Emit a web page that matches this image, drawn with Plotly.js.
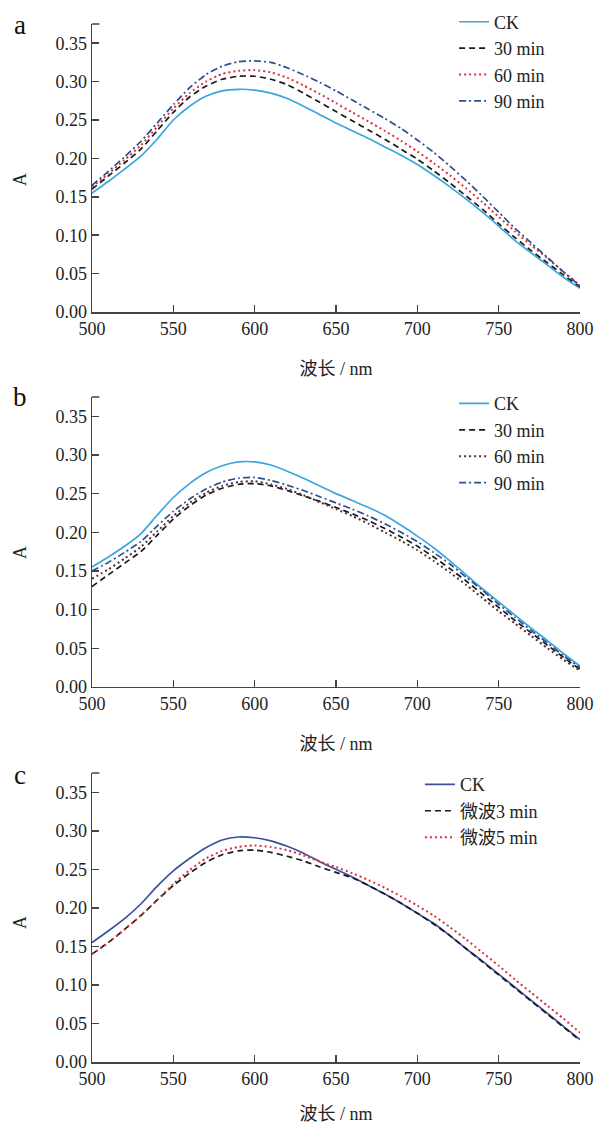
<!DOCTYPE html>
<html>
<head>
<meta charset="utf-8">
<script src="https://cdn.plot.ly/plotly-3.0.1.min.js"></script>
<style>html,body{margin:0;padding:0;background:#fff;}#chart{width:597px;height:1124px;}</style>
</head>
<body>
<div id="chart"></div>
<script>
// Wavelength (nm)
const wavelength = [500,510,520,530,540,550,560,570,580,590,600,610,620,630,640,650,660,670,680,690,700,710,720,730,740,750,760,770,780,790,800];

// Panel a
const a_CK    = [0.155,0.170,0.186,0.203,0.225,0.250,0.268,0.281,0.288,0.290,0.289,0.285,0.278,0.268,0.257,0.246,0.236,0.226,0.215,0.204,0.192,0.178,0.163,0.147,0.130,0.112,0.093,0.077,0.061,0.045,0.031];
const a_30min = [0.160,0.177,0.194,0.212,0.236,0.260,0.280,0.294,0.303,0.307,0.307,0.303,0.296,0.285,0.273,0.261,0.249,0.237,0.225,0.212,0.199,0.184,0.168,0.151,0.134,0.115,0.097,0.080,0.064,0.048,0.033];
const a_60min = [0.163,0.180,0.198,0.217,0.241,0.265,0.285,0.300,0.310,0.314,0.315,0.312,0.305,0.295,0.284,0.272,0.260,0.248,0.236,0.223,0.209,0.194,0.178,0.161,0.143,0.124,0.105,0.087,0.070,0.052,0.035];
const a_90min = [0.165,0.183,0.202,0.222,0.246,0.270,0.292,0.309,0.320,0.326,0.327,0.325,0.318,0.309,0.299,0.288,0.276,0.264,0.252,0.239,0.224,0.208,0.190,0.171,0.151,0.130,0.109,0.090,0.071,0.052,0.034];

// Panel b
const b_CK    = [0.155,0.168,0.182,0.198,0.222,0.245,0.263,0.277,0.286,0.291,0.291,0.287,0.279,0.270,0.260,0.250,0.241,0.232,0.222,0.209,0.195,0.180,0.163,0.145,0.127,0.110,0.093,0.076,0.060,0.043,0.027];
const b_30min = [0.130,0.145,0.160,0.175,0.196,0.217,0.234,0.248,0.257,0.262,0.263,0.260,0.254,0.247,0.240,0.232,0.224,0.215,0.205,0.194,0.182,0.168,0.153,0.137,0.120,0.103,0.086,0.070,0.054,0.038,0.023];
const b_60min = [0.140,0.152,0.166,0.181,0.201,0.221,0.238,0.251,0.260,0.265,0.266,0.262,0.256,0.248,0.239,0.230,0.221,0.211,0.200,0.189,0.177,0.163,0.148,0.132,0.115,0.098,0.082,0.066,0.050,0.035,0.021];
const b_90min = [0.150,0.161,0.174,0.188,0.208,0.227,0.243,0.256,0.265,0.270,0.271,0.267,0.261,0.254,0.246,0.238,0.230,0.221,0.211,0.200,0.188,0.174,0.159,0.142,0.125,0.107,0.090,0.073,0.057,0.040,0.025];

// Panel c
const c_CK   = [0.155,0.170,0.186,0.205,0.228,0.248,0.264,0.278,0.288,0.292,0.291,0.287,0.280,0.271,0.260,0.250,0.240,0.229,0.218,0.206,0.193,0.180,0.164,0.147,0.131,0.114,0.097,0.080,0.063,0.046,0.029];
const c_MW3  = [0.140,0.155,0.172,0.190,0.210,0.229,0.245,0.259,0.269,0.274,0.275,0.272,0.267,0.261,0.253,0.246,0.239,0.229,0.218,0.206,0.193,0.179,0.164,0.147,0.130,0.113,0.096,0.079,0.062,0.045,0.028];
const c_MW5  = [0.140,0.155,0.172,0.190,0.210,0.231,0.249,0.264,0.274,0.279,0.281,0.279,0.275,0.268,0.260,0.253,0.245,0.236,0.226,0.215,0.203,0.190,0.175,0.159,0.142,0.125,0.107,0.090,0.073,0.056,0.038];

const seriesNamesAB = ["CK","30 min","60 min","90 min"];
const seriesNamesC = ["CK","微波3 min","微波5 min"];
const panelLetters = ["a","b","c"];
const xTitle = "波长 / nm";
const yTitle = "A";

const SERIF = "Liberation Serif, Times New Roman, serif";
const CJK = "Liberation Serif, Noto Sans CJK SC, serif";

const styleAB = [
  {color:"#3AA6DE", dash:"solid", width:1.7},
  {color:"#1a1a1a", dash:"6px,4px", width:1.7},
  {color:"#D8333F", dash:"2px,3px", width:2},
  {color:"#2B4E8E", dash:"7px,3px,2px,3px", width:1.7}
];
const styleB60 = {color:"#5a2f38", dash:"2px,3px", width:2};
const styleC = [
  {color:"#3D4FA0", dash:"solid", width:1.7},
  {color:"#1a1a1a", dash:"6px,4px", width:1.7},
  {color:"#D8333F", dash:"2px,3px", width:2}
];

function tr(y, name, st, ax, leg){
  return {x: wavelength, y: y, name: name, type:"scatter", mode:"lines",
    line:{color:st.color, dash:st.dash, width:st.width, shape:"spline", smoothing:0.6},
    xaxis: ax[0], yaxis: ax[1], legend: leg};
}

const traces = [
  tr(a_CK, seriesNamesAB[0], styleAB[0], ["x","y"], "legend"),
  tr(a_30min, seriesNamesAB[1], styleAB[1], ["x","y"], "legend"),
  tr(a_60min, seriesNamesAB[2], styleAB[2], ["x","y"], "legend"),
  tr(a_90min, seriesNamesAB[3], styleAB[3], ["x","y"], "legend"),
  tr(b_CK, seriesNamesAB[0], styleAB[0], ["x2","y2"], "legend2"),
  tr(b_30min, seriesNamesAB[1], styleAB[1], ["x2","y2"], "legend2"),
  tr(b_60min, seriesNamesAB[2], styleB60, ["x2","y2"], "legend2"),
  tr(b_90min, seriesNamesAB[3], styleAB[3], ["x2","y2"], "legend2"),
  tr(c_CK, seriesNamesC[0], styleC[0], ["x3","y3"], "legend3"),
  tr(c_MW3, seriesNamesC[1], styleC[1], ["x3","y3"], "legend3"),
  tr(c_MW5, seriesNamesC[2], styleC[2], ["x3","y3"], "legend3")
];

function xax(anchor){
  return {anchor: anchor, range:[500,800], dtick:50, tick0:500, showline:true, linecolor:"#444", linewidth:1.5,
    ticks:"inside", ticklen:7, tickwidth:1.5, tickcolor:"#444", showgrid:false, zeroline:false,
    tickfont:{family:SERIF, size:18, color:"#222"},
    title:{text:xTitle, font:{family:CJK, size:18, color:"#222"}, standoff:24}};
}
function yax(anchor, domain){
  return {anchor: anchor, domain: domain, range:[0,0.375], dtick:0.05, tick0:0, tickformat:".2f",
    showline:true, linecolor:"#444", linewidth:1.5, ticks:"inside", ticklen:7, tickwidth:1.5, tickcolor:"#444",
    showgrid:false, zeroline:false, tickfont:{family:SERIF, size:18, color:"#222"},
    title:{text:""}};
}
const domA=[0.7225,1], domB=[0.3613,0.6407], domC=[0,0.2784];

function leg(x,y){
  return {x:x, y:y, xanchor:"left", yanchor:"top", bgcolor:"rgba(0,0,0,0)", borderwidth:0,
    font:{family:CJK, size:18, color:"#222"}, tracegroupgap:0, itemwidth:30};
}

const letterAnn = panelLetters.map((t,i)=>({
  text:t, xref:"paper", yref:"paper", x:-0.1475, y:[0.999,0.6407,0.2765][i],
  xanchor:"center", yanchor:"middle", showarrow:false, font:{family:SERIF, size:27, color:"#111"}
}));
const yTitleAnn = [0.8497,0.4904,0.1339].map(yy=>({
  text:yTitle, xref:"paper", yref:"paper", x:-0.1475, y:yy, textangle:-90,
  xanchor:"center", yanchor:"middle", showarrow:false, font:{family:SERIF, size:18, color:"#222"}
}));

const shapes = [["x domain","y domain"],["x2 domain","y2 domain"],["x3 domain","y3 domain"]].map(r=>({
  type:"line", xref:r[0], yref:r[1], x0:0, x1:0.015, y0:1, y1:1, line:{color:"#444", width:1.5}
}));

const layout = {
  width:597, height:1124, paper_bgcolor:"#fff", plot_bgcolor:"#fff",
  margin:{l:92, r:17, t:24, b:62, autoexpand:false},
  xaxis: xax("y"), yaxis: yax("x", domA),
  xaxis2: xax("y2"), yaxis2: yax("x2", domB),
  xaxis3: xax("y3"), yaxis3: yax("x3", domC),
  legend: leg(0.742, 1.0197),
  legend2: leg(0.742, 0.652),
  legend3: leg(0.672, 0.285),
  showlegend:true,
  annotations: letterAnn.concat(yTitleAnn),
  shapes: shapes
};

Plotly.newPlot("chart", traces, layout, {staticPlot:true});
</script>
</body>
</html>
